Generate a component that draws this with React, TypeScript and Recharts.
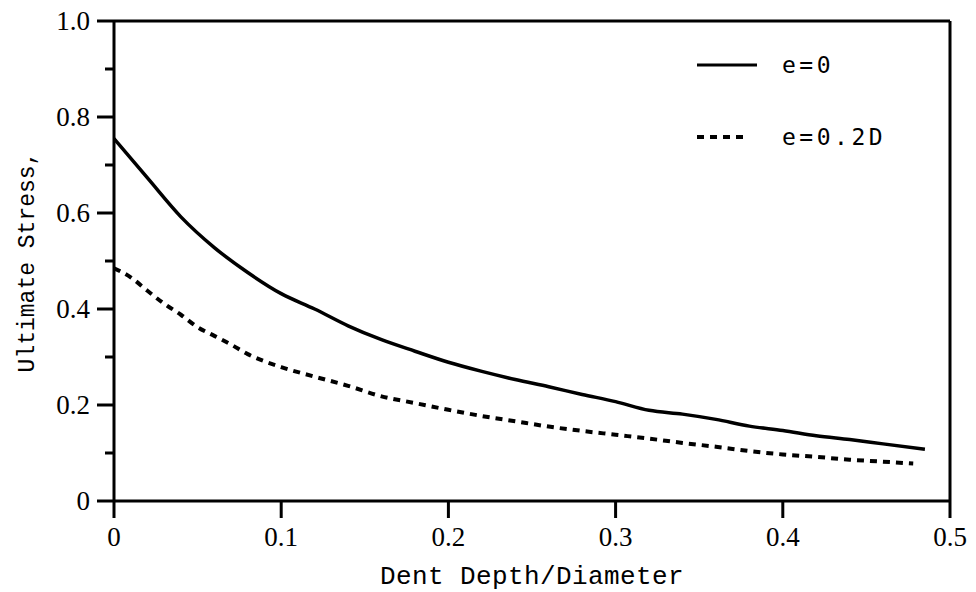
import React from 'react';
import { LineChart, Line, XAxis, YAxis, Legend } from 'recharts';

// e = 0 (solid)
const solidX = [0, 0.02, 0.04, 0.06, 0.08, 0.1, 0.12, 0.14, 0.16, 0.18, 0.2, 0.22, 0.24, 0.26, 0.28, 0.3, 0.32, 0.34, 0.36, 0.38, 0.4, 0.42, 0.44, 0.46, 0.485];
const solidY = [0.755, 0.673, 0.592, 0.528, 0.476, 0.432, 0.4, 0.365, 0.336, 0.312, 0.289, 0.27, 0.253, 0.238, 0.222, 0.207, 0.189, 0.181, 0.17, 0.156, 0.147, 0.136, 0.128, 0.119, 0.108];

// e = 0.2D (dashed)
const dashedX = [0, 0.01, 0.02, 0.03, 0.04, 0.05, 0.06, 0.07, 0.08, 0.1, 0.12, 0.14, 0.16, 0.18, 0.2, 0.22, 0.24, 0.26, 0.28, 0.3, 0.32, 0.34, 0.36, 0.38, 0.4, 0.42, 0.44, 0.46, 0.478];
const dashedY = [0.485, 0.466, 0.438, 0.411, 0.388, 0.362, 0.344, 0.326, 0.306, 0.279, 0.259, 0.24, 0.218, 0.204, 0.19, 0.177, 0.166, 0.155, 0.146, 0.138, 0.13, 0.121, 0.113, 0.104, 0.097, 0.092, 0.086, 0.082, 0.078];

const seriesNames = ['e=0', 'e=0.2D'];

const xTicks = [0, 0.1, 0.2, 0.3, 0.4, 0.5];
const xTickLabels = ['0', '0.1', '0.2', '0.3', '0.4', '0.5'];
const yTicks = [0, 0.1, 0.2, 0.3, 0.4, 0.5, 0.6, 0.7, 0.8, 0.9, 1.0];
const yTickLabels = ['0', '', '0.2', '', '0.4', '', '0.6', '', '0.8', '', '1.0'];

const solidData = solidX.map((x, i) => ({ x, y: solidY[i] }));
const dashedData = dashedX.map((x, i) => ({ x, y: dashedY[i] }));

const SERIF = '"Liberation Serif", "Times New Roman", serif';
const MONO = '"Liberation Mono", "Courier New", monospace';
const SANS_MONO = '"DejaVu Sans Mono", monospace';

const YTick = (props: any) => {
  const { x, y, index } = props;
  const label = yTickLabels[index];
  const major = label !== '';
  return (
    <g>
      <line x1={x} x2={x - (major ? 17 : 9)} y1={y} y2={y} stroke="#000" strokeWidth={3} />
      {major && (
        <text x={x - 24} y={y} textAnchor="end" dominantBaseline="central" fontFamily={SERIF} fontSize={27} fill="#000">
          {label}
        </text>
      )}
    </g>
  );
};

const XTick = (props: any) => {
  const { x, y, index } = props;
  return (
    <g>
      <line x1={x} x2={x} y1={y} y2={y + 17} stroke="#000" strokeWidth={3} />
      <text x={x} y={y + 36} textAnchor="middle" dominantBaseline="central" fontFamily={SERIF} fontSize={27} fill="#000">
        {xTickLabels[index]}
      </text>
    </g>
  );
};

const LegendBox = () => (
  <div style={{ fontFamily: SANS_MONO, fontSize: 23, letterSpacing: 3.5, color: '#000', fontWeight: 500 }}>
    {seriesNames.map((name, i) => (
      <div key={name} style={{ display: 'flex', alignItems: 'center', height: 34, marginBottom: 38 }}>
        <svg width={85} height={10}>
          <line
            x1={0}
            x2={i === 0 ? 60 : 52}
            y1={5}
            y2={5}
            stroke="#000"
            strokeWidth={i === 0 ? 3 : 4}
            strokeDasharray={i === 0 ? undefined : '7 6'}
          />
        </svg>
        <span>{name}</span>
      </div>
    ))}
  </div>
);

export default function App() {
  return (
    <div style={{ position: 'absolute', left: 0, top: 0, width: 976, height: 592, background: '#fff' }}>
      <LineChart width={976} height={592} margin={{ top: 20, right: 20, bottom: 31, left: 54 }}>
        <XAxis
          xAxisId={0}
          type="number"
          dataKey="x"
          domain={[0, 0.5]}
          ticks={xTicks}
          tick={<XTick />}
          tickLine={false}
          tickSize={0}
          tickMargin={0}
          height={60}
          axisLine={{ stroke: '#000', strokeWidth: 3 }}
          allowDataOverflow
          label={{
            content: () => (
              <text x={532} y={584} textAnchor="middle" fontFamily={MONO} fontSize={26} letterSpacing={0.4} fill="#000">
                Dent Depth/Diameter
              </text>
            ),
          }}
        />
        <XAxis
          xAxisId="top"
          orientation="top"
          type="number"
          domain={[0, 0.5]}
          tick={false}
          tickLine={false}
          height={1}
          axisLine={{ stroke: '#000', strokeWidth: 3 }}
        />
        <YAxis
          yAxisId={0}
          type="number"
          domain={[0, 1]}
          ticks={yTicks}
          tick={<YTick />}
          tickLine={false}
          tickSize={0}
          tickMargin={0}
          width={60}
          axisLine={{ stroke: '#000', strokeWidth: 3 }}
          allowDataOverflow
          label={{
            content: () => (
              <text
                x={28}
                y={262}
                transform="rotate(-90 28 262)"
                textAnchor="middle"
                dominantBaseline="central"
                fontFamily={MONO}
                fontSize={23}
                fill="#000"
              >
                Ultimate Stress,
              </text>
            ),
          }}
        />
        <YAxis
          yAxisId="right"
          orientation="right"
          type="number"
          domain={[0, 1]}
          tick={false}
          tickLine={false}
          width={6}
          axisLine={{ stroke: '#000', strokeWidth: 3 }}
        />
        <Legend
          layout="horizontal"
          verticalAlign="middle"
          align="center"
          content={<LegendBox />}
          wrapperStyle={{ position: 'absolute', top: 48, left: 697, width: 260, height: 110 }}
        />
        <Line
          data={solidData}
          dataKey="y"
          name={seriesNames[0]}
          type="monotone"
          stroke="#000"
          strokeWidth={3.5}
          dot={false}
          activeDot={false}
          isAnimationActive={false}
        />
        <Line
          data={dashedData}
          dataKey="y"
          name={seriesNames[1]}
          type="monotone"
          stroke="#000"
          strokeWidth={4}
          strokeDasharray="7 6"
          dot={false}
          activeDot={false}
          isAnimationActive={false}
        />
      </LineChart>
    </div>
  );
}
